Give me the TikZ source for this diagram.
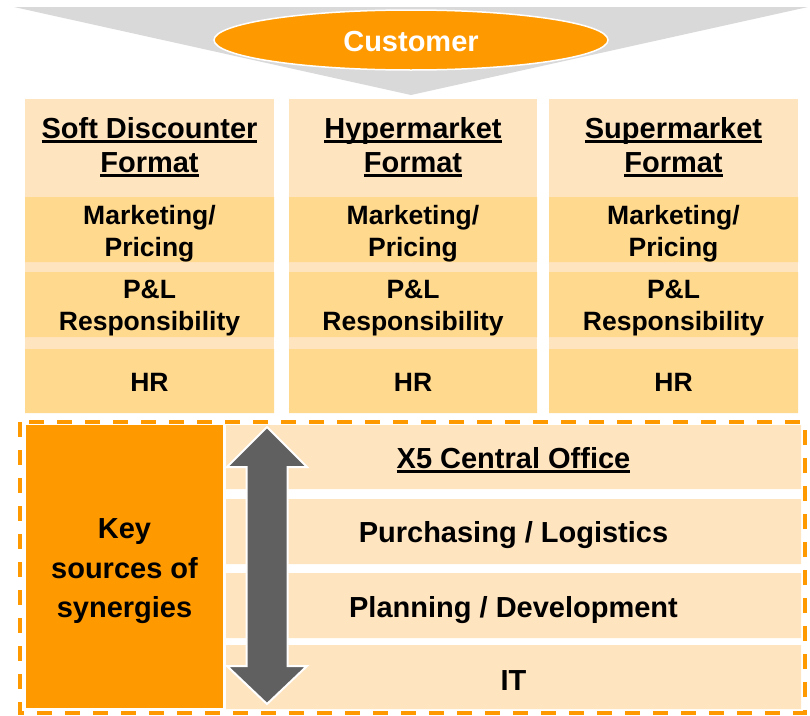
\documentclass[tikz,border=0pt]{standalone}
\usepackage{fontspec}
\setmainfont{Liberation Sans}
\usetikzlibrary{shapes.geometric}

\definecolor{cream}{HTML}{FFE4C0}
\definecolor{wheat}{HTML}{FFD98E}
\definecolor{xorange}{HTML}{FF9900}
\definecolor{funnelgray}{HTML}{D9D9D9}
\definecolor{arrowgray}{HTML}{606060}

\newcommand{\titlefont}{\fontsize{29}{34}\selectfont\bfseries}
\newcommand{\bandfont}{\fontsize{26.5}{32}\selectfont\bfseries}
\newcommand{\ul}[1]{\setbox0\hbox{#1}\rlap{\rule[-5pt]{\wd0}{2.6pt}}\box0}

\begin{document}
\begin{tikzpicture}[x=1pt,y=-1pt,
		fmttitle/.style={align=center,font=\titlefont},
		bandtext/.style={align=center,font=\bandfont},
		officetext/.style={font=\titlefont}]
		\useasboundingbox (0,0) rectangle (810,715);
		% funnel and customer
		\fill[color=funnelgray] (14,7) -- (808,7) -- (411,95) -- cycle;
		\node[ellipse,fill=xorange,draw=white,line width=1.5pt,minimum width=394pt,minimum height=60pt] (customer) at (411,40) {};
		\node[font=\titlefont,text=white] (customertext) at (411,42) {Customer};
		% formats
		\fill[color=cream] (25,99) rectangle (274,413);
		\fill[color=cream] (289,99) rectangle (537,413);
		\fill[color=cream] (549,99) rectangle (798,413);
		\fill[color=wheat] (25,197) rectangle (274,262) (289,197) rectangle (537,262) (549,197) rectangle (798,262);
		\fill[color=wheat] (25,272) rectangle (274,337) (289,272) rectangle (537,337) (549,272) rectangle (798,337);
		\fill[color=wheat] (25,349) rectangle (274,413) (289,349) rectangle (537,413) (549,349) rectangle (798,413);
		\node[fmttitle] (soft) at (149.5,147) {\ul{Soft Discounter}\\\ul{Format}};
		\node[fmttitle] (hyper) at (413,147) {\ul{Hypermarket}\\\ul{Format}};
		\node[fmttitle] (super) at (673.5,147) {\ul{Supermarket}\\\ul{Format}};
		\node[bandtext] (softmkt) at (149.5,233.5) {Marketing/\\Pricing};
		\node[bandtext] (hypermkt) at (413,233.5) {Marketing/\\Pricing};
		\node[bandtext] (supermkt) at (673.5,233.5) {Marketing/\\Pricing};
		\node[bandtext] (softpl) at (149.5,308.5) {P\&L\\Responsibility};
		\node[bandtext] (hyperpl) at (413,308.5) {P\&L\\Responsibility};
		\node[bandtext] (superpl) at (673.5,308.5) {P\&L\\Responsibility};
		\node[bandtext] (softhr) at (149.5,382) {HR};
		\node[bandtext] (hyperhr) at (413,382) {HR};
		\node[bandtext] (superhr) at (673.5,382) {HR};
		% central office
		\fill[color=xorange] (26,425) rectangle (223,708);
		\fill[color=cream] (226,425) rectangle (801,489) (226,499) rectangle (801,564) (226,573) rectangle (801,638) (226,645) rectangle (801,709);
		\node[align=center,font=\fontsize{29}{39.5}\selectfont\bfseries] (key) at (124.5,571.5) {Key\\sources of\\synergies};
		\node[officetext] (office) at (513.5,460) {\ul{X5 Central Office}};
		\node[officetext] (purchasing) at (513.5,535.5) {Purchasing / Logistics};
		\node[officetext] (planning) at (513.5,610.5) {Planning / Development};
		\node[officetext] (it) at (513.5,681) {IT};
		\fill[color=arrowgray,draw=white,line width=2pt] (267,427) -- (307,467) -- (287.5,467) -- (287.5,666) -- (307,666) -- (267,704) -- (227,666) -- (246.5,666) -- (246.5,467) -- (227,467) -- cycle;
		\draw[color=xorange,line width=4pt,dash pattern=on 15pt off 13pt] (20,422) rectangle (805,713);
	\end{tikzpicture}
\end{document}
